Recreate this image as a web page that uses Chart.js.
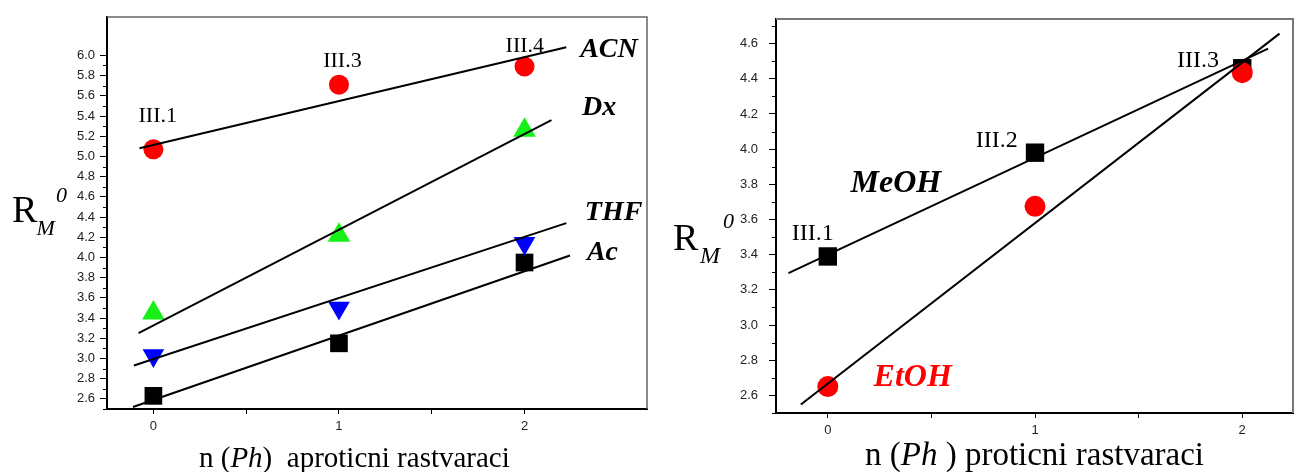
<!DOCTYPE html>
<html><head><meta charset="utf-8">
<script src="https://cdn.jsdelivr.net/npm/chart.js@4/dist/chart.umd.min.js"></script>
<style>
html,body{margin:0;padding:0;background:#fff;}
#wrap{position:relative;width:1306px;height:472px;overflow:hidden;background:#fff;}
#c1{position:absolute;left:0;top:0;}
#c2{position:absolute;left:660px;top:0;}
</style></head><body>
<div id="wrap"><canvas id="c1" width="660" height="472"></canvas><canvas id="c2" width="646" height="472"></canvas></div>
<script>
// ---------- data ----------
const nPh = [0, 1, 2];

// left panel: aprotic solvents
const acnValues = [5.07, 5.71, 5.89];
const dxValues  = [3.45, 4.22, 5.26];
const thfValues = [3.03, 3.50, 4.14];
const acValues  = [2.63, 3.15, 3.95];

// fitted lines (start, end)
const acnFitX = [-0.075, 2.225]; const acnFitY = [5.08, 6.08];
const dxFitX  = [-0.08, 2.145];  const dxFitY  = [3.25, 5.36];
const thfFitX = [-0.105, 2.225]; const thfFitY = [2.93, 4.34];
const acFitX  = [-0.11, 2.245];  const acFitY  = [2.52, 4.02];

// right panel: protic solvents
const meohValues = [3.39, 3.98, 4.46];
const etohValues = [2.65, 3.675, 4.435];
const meohFitX = [-0.19, 2.125]; const meohFitY = [3.295, 4.572];
const etohFitX = [-0.13, 2.18];  const etohFitY = [2.548, 4.657];

// tick labels
const xTickLabels = ['0', '1', '2'];
const xMinorTicks = [0.5, 1.5];
const leftYTickLabels = ['2.6','2.8','3.0','3.2','3.4','3.6','3.8','4.0','4.2','4.4','4.6','4.8','5.0','5.2','5.4','5.6','5.8','6.0'];
const rightYTickLabels = ['2.6','2.8','3.0','3.2','3.4','3.6','3.8','4.0','4.2','4.4','4.6'];

// annotation texts (anchored in data units)
const leftPointLabels = ['III.1', 'III.3', 'III.4'];
const leftPointLabelX = [-0.08, 0.915, 1.898];
const leftPointLabelY = [5.34, 5.884, 6.036];
const leftSeriesNames = ['ACN', 'Dx', 'THF', 'Ac'];
const leftSeriesLabelX = [2.30, 2.31, 2.325, 2.336];
const leftSeriesLabelY = [5.986, 5.409, 4.37, 3.973];

const rightPointLabels = ['III.1', 'III.2', 'III.3'];
const rightPointLabelX = [-0.174, 0.714, 1.685];
const rightPointLabelY = [3.484, 4.013, 4.467];
const rightSeriesNames = ['MeOH', 'EtOH'];
const rightSeriesLabelX = [0.11, 0.221];
const rightSeriesLabelY = [3.758, 2.652];

// ---------- helpers ----------
const pts = (xs, ys) => xs.map((x, i) => ({ x: x, y: ys[i] }));
const markerSet = (vals, style, color, radius, rot, order) => ({
  data: pts(nPh, vals), showLine: false, pointStyle: style, pointRadius: radius,
  pointHoverRadius: radius, pointRotation: rot || 0, backgroundColor: color,
  borderColor: color, pointBorderWidth: 0, order: order
});
const fitSet = (xs, ys) => ({
  data: pts(xs, ys), showLine: true, pointRadius: 0, pointHoverRadius: 0,
  borderColor: '#000', borderWidth: 2, order: 0
});
const TICK_FONT = { family: '"Liberation Sans", Arial, sans-serif', size: 13 };
const SERIF = '"Liberation Serif", "Times New Roman", serif';

function xScale(min, max, height) {
  return {
    type: 'linear', min: min, max: max,
    afterBuildTicks: s => { s.ticks = xTickLabels.map(Number).concat(xMinorTicks).sort((a, b) => a - b).map(v => ({ value: v })); },
    afterFit: s => { s.height = height; },
    ticks: {
      font: TICK_FONT, color: '#222', padding: 5, maxRotation: 0, autoSkip: false,
      callback: v => (xTickLabels.includes(String(v)) ? String(v) : '')
    },
    grid: { display: true, drawOnChartArea: false, drawTicks: true, tickLength: 5, tickColor: '#000', tickWidth: 1 },
    border: { display: true, color: '#000', width: 2 }
  };
}
function yScale(min, max, width, labels, pad) {
  return {
    type: 'linear', min: min, max: max,
    afterBuildTicks: s => { s.ticks = labels.map(l => ({ value: Number(l) })); },
    afterFit: s => { s.width = width; },
    ticks: { font: TICK_FONT, color: '#222', padding: pad, autoSkip: false, callback: v => Number(v).toFixed(1) },
    grid: { display: true, drawOnChartArea: false, drawTicks: true, tickLength: 7, tickColor: '#000', tickWidth: 1 },
    border: { display: true, color: '#000', width: 2 }
  };
}

function makeDecor(opts) {
  return {
    id: 'decor',
    afterDraw(chart) {
      const { ctx, chartArea: a, scales: { x, y } } = chart;
      ctx.save();
      // top & right frame
      ctx.strokeStyle = opts.frameColor; ctx.lineWidth = opts.frameWidth;
      ctx.beginPath();
      ctx.moveTo(a.left, a.top); ctx.lineTo(a.right, a.top); ctx.lineTo(a.right, a.bottom);
      ctx.stroke();
      // minor y ticks
      ctx.strokeStyle = '#000'; ctx.lineWidth = 1;
      opts.minorY.forEach(v => {
        const py = Math.round(y.getPixelForValue(v)) + 0.5;
        ctx.beginPath(); ctx.moveTo(a.left - 4, py); ctx.lineTo(a.left, py); ctx.stroke();
      });
      // texts inside plot
      ctx.textAlign = 'left'; ctx.textBaseline = 'alphabetic';
      opts.texts.forEach(t => {
        ctx.font = t.font; ctx.fillStyle = t.color || '#000';
        ctx.fillText(t.text, x.getPixelForValue(t.x), y.getPixelForValue(t.y));
      });
      // axis titles
      opts.titles.forEach(line => {
        let cx = line.x;
        line.parts.forEach(p => {
          ctx.font = p.font; ctx.fillStyle = '#000';
          ctx.fillText(p.text, cx, line.y);
          cx += ctx.measureText(p.text).width;
        });
      });
      opts.ylabel.forEach(p => { ctx.font = p.font; ctx.fillStyle = '#000'; ctx.fillText(p.text, p.x, p.y); });
      ctx.restore();
    }
  };
}

const baseOpts = (pad, scales) => ({
  responsive: false, animation: false, events: [],
  layout: { padding: pad },
  plugins: { legend: { display: false }, tooltip: { enabled: false } },
  scales: scales
});

// ---------- left chart ----------
const leftMinor = leftYTickLabels.map(l => Number(l) - 0.1);
const leftTexts = []
  .concat(leftPointLabels.map((t, i) => ({ text: t, x: leftPointLabelX[i], y: leftPointLabelY[i], font: '22px ' + SERIF })))
  .concat(leftSeriesNames.map((t, i) => ({ text: t, x: leftSeriesLabelX[i], y: leftSeriesLabelY[i], font: 'bold italic 28px ' + SERIF })));

new Chart(document.getElementById('c1'), {
  type: 'scatter',
  data: { datasets: [
    fitSet(acnFitX, acnFitY), fitSet(dxFitX, dxFitY), fitSet(thfFitX, thfFitY), fitSet(acFitX, acFitY),
    markerSet(acnValues, 'circle', '#ff0000', 10, 0, 1),
    markerSet(dxValues, 'triangle', '#16f016', 13, 0, 1),
    markerSet(thfValues, 'triangle', '#0000ff', 12.5, 180, 1),
    markerSet(acValues, 'rect', '#000000', 12.5, 0, 1)
  ] },
  options: baseOpts({ left: 0, right: 12, top: 17, bottom: 0 }, {
    x: xScale(-0.25, 2.66, 63),
    y: yScale(2.5, 6.38, 107, leftYTickLabels, 5)
  }),
  plugins: [makeDecor({
    frameColor: '#666', frameWidth: 1.5, minorY: leftMinor, texts: leftTexts,
    titles: [{ x: 199, y: 467, parts: [
      { text: 'n (', font: '29px ' + SERIF },
      { text: 'Ph', font: 'italic 29px ' + SERIF },
      { text: ')  aproticni rastvaraci', font: '29px ' + SERIF }
    ] }],
    ylabel: [
      { text: 'R', x: 12, y: 221.5, font: '38px ' + SERIF },
      { text: 'M', x: 36.5, y: 235, font: 'italic 22px ' + SERIF },
      { text: '0', x: 56, y: 202, font: 'italic 22px ' + SERIF }
    ]
  })]
});

// ---------- right chart ----------
const rightMinor = rightYTickLabels.map(l => Number(l) - 0.1).concat([Number(rightYTickLabels[rightYTickLabels.length - 1]) + 0.1]);
const rightTexts = []
  .concat(rightPointLabels.map((t, i) => ({ text: t, x: rightPointLabelX[i], y: rightPointLabelY[i], font: '24px ' + SERIF })))
  .concat(rightSeriesNames.map((t, i) => ({ text: t, x: rightSeriesLabelX[i], y: rightSeriesLabelY[i], font: 'bold italic 32px ' + SERIF, color: i === 1 ? '#ff0000' : '#000' })));

new Chart(document.getElementById('c2'), {
  type: 'scatter',
  data: { datasets: [
    fitSet(meohFitX, meohFitY), fitSet(etohFitX, etohFitY),
    markerSet(etohValues, 'circle', '#ff0000', 10.5, 0, 1),
    markerSet(meohValues, 'rect', '#000000', 13, 0, 2)
  ] },
  options: baseOpts({ left: 0, right: 1, top: 19, bottom: 0 }, {
    x: xScale(-0.25, 2.245, 59),
    y: yScale(2.5, 4.74, 116, rightYTickLabels, 11)
  }),
  plugins: [makeDecor({
    frameColor: '#777', frameWidth: 2, minorY: rightMinor, texts: rightTexts,
    titles: [{ x: 205, y: 465, parts: [
      { text: 'n (', font: '33px ' + SERIF },
      { text: 'Ph', font: 'italic 33px ' + SERIF },
      { text: ' ) proticni rastvaraci', font: '33px ' + SERIF }
    ] }],
    ylabel: [
      { text: 'R', x: 13, y: 250, font: '38px ' + SERIF },
      { text: 'M', x: 40, y: 263, font: 'italic 24px ' + SERIF },
      { text: '0', x: 63, y: 228, font: 'italic 22px ' + SERIF }
    ]
  })]
});
</script>
</body></html>
